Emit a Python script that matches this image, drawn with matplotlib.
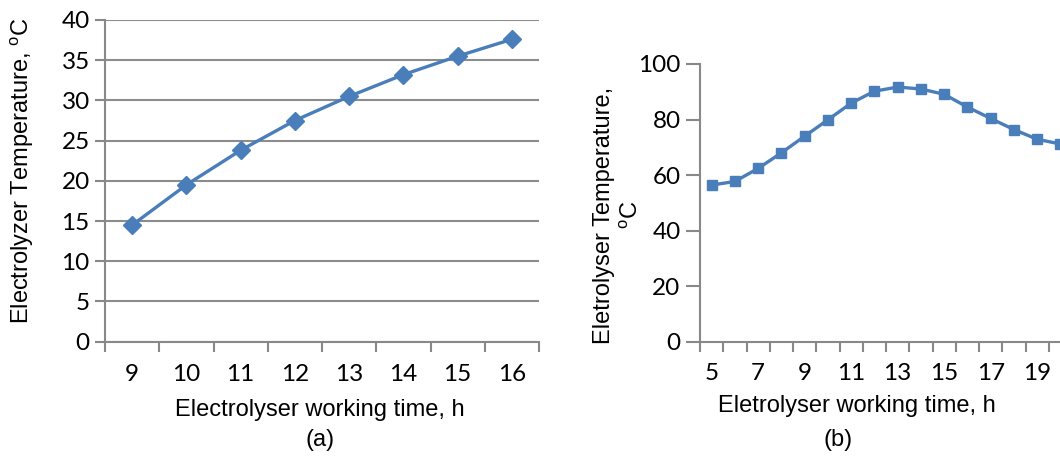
import matplotlib
matplotlib.use("Agg")
import matplotlib.pyplot as plt
import numpy as np

# ---- data ----
hours_a = [9, 10, 11, 12, 13, 14, 15, 16]
temp_a = [14.5, 19.5, 23.8, 27.5, 30.5, 33.2, 35.5, 37.6]

hours_b = [5, 6, 7, 8, 9, 10, 11, 12, 13, 14, 15, 16, 17, 18, 19, 20]
temp_b = [56.4, 57.7, 62.4, 68.0, 74.0, 79.9, 85.9, 90.2, 91.7, 91.0,
          89.1, 84.5, 80.4, 76.4, 72.9, 71.2]

yticks_a = [0, 5, 10, 15, 20, 25, 30, 35, 40]
yticks_b = [0, 20, 40, 60, 80, 100]

xlabel_a = "Electrolyser working time, h"
ylabel_a = "Electrolyzer Temperature, $^{\\mathrm{o}}$C"
xlabel_b = "Eletrolyser working time, h"
ylabel_b = "Eletrolyser Temperature,\n$^{\\mathrm{o}}$C"

plt.rcParams['font.family'] = ['Liberation Sans', 'DejaVu Sans']
plt.rcParams['mathtext.fontset'] = 'custom'
plt.rcParams['mathtext.rm'] = 'Liberation Sans'

W, H = 1060, 457
fig = plt.figure(figsize=(W / 100, H / 100), dpi=100)

LINE = "#4A7EBB"
AX = "#888888"
TICKFONT = dict(family=['Lato', 'DejaVu Sans'], size=17.5)
LABSIZE = 17


def px_rect(x0, y0, x1, y1):
    return [x0 / W, 1 - y1 / H, (x1 - x0) / W, (y1 - y0) / H]


# ---- chart (a) ----
ax = fig.add_axes(px_rect(105, 20, 539, 341.7))
xa = np.arange(len(hours_a))
ax.plot(xa, temp_a, color=LINE, lw=2.4, marker='D', ms=9.5,
        markeredgecolor=LINE, zorder=3)
ax.set_xlim(-0.5, len(hours_a) - 0.5)
ax.set_ylim(0, 40)
ax.set_yticks(yticks_a)
ax.set_yticklabels([str(v) for v in yticks_a], **TICKFONT)
ax.set_xticks(xa)
ax.set_xticklabels([str(h) for h in hours_a], **TICKFONT)
ax.tick_params(axis='x', length=0, pad=16)
ax.set_xticks(np.arange(len(hours_a) + 1) - 0.5, minor=True)
ax.tick_params(axis='x', which='minor', length=7, width=1.5, color=AX, direction='out')
ax.tick_params(axis='y', length=7, width=1.5, color=AX, pad=4)
for s in ['top', 'right']:
    ax.spines[s].set_visible(False)
for s in ['left', 'bottom']:
    ax.spines[s].set_color(AX)
    ax.spines[s].set_linewidth(1.5)
ax.yaxis.grid(True, color="#8C8C8C", lw=1.5)
ax.set_axisbelow(True)
ax.set_xlabel(xlabel_a, fontsize=LABSIZE)
ax.xaxis.set_label_coords((320 - 105) / (539 - 105), -(410 - 341.7) / (341.7 - 20))
ax.xaxis.label.set_va('center')
ax.set_ylabel(ylabel_a, fontsize=LABSIZE)
ax.yaxis.set_label_coords(-(105 - 22) / (539 - 105), (341.7 - 171) / (341.7 - 20))
ax.yaxis.label.set_va('center')
fig.text(320 / W, 1 - 440 / H, "(a)", ha='center', va='center', fontsize=LABSIZE)

# ---- chart (b) ----
nb = len(hours_b)
cw = 23.25
bx = fig.add_axes(px_rect(700, 64, 700 + nb * cw, 341.7))
xb = np.arange(nb)
bx.plot(xb, temp_b, color=LINE, lw=2.4, marker='s', ms=7,
        markeredgecolor=LINE, zorder=3, clip_on=False)
bx.set_xlim(-0.5, nb - 0.5)
bx.set_ylim(0, 100)
bx.set_yticks(yticks_b)
bx.set_yticklabels([str(v) for v in yticks_b], **TICKFONT)
bx.set_xticks(xb)
bx.set_xticklabels([str(h) if i % 2 == 0 else "" for i, h in enumerate(hours_b)], **TICKFONT)
bx.tick_params(axis='x', length=0, pad=15)
bx.set_xticks(np.arange(nb + 1) - 0.5, minor=True)
bx.tick_params(axis='x', which='minor', length=7, width=1.5, color=AX, direction='out')
bx.tick_params(axis='y', length=10, width=1.5, color=AX, pad=4)
for s in ['top', 'right']:
    bx.spines[s].set_visible(False)
for s in ['left', 'bottom']:
    bx.spines[s].set_color(AX)
    bx.spines[s].set_linewidth(1.5)
bw = nb * cw
bh = 341.7 - 64
bx.set_xlabel(xlabel_b, fontsize=LABSIZE)
bx.xaxis.set_label_coords((857 - 700) / bw, -(406 - 341.7) / bh)
bx.xaxis.label.set_va('center')
bx.set_ylabel(ylabel_b, fontsize=LABSIZE, linespacing=1.25)
bx.yaxis.set_label_coords(-(700 - 618) / bw, (341.7 - 215) / bh)
bx.yaxis.label.set_va('center')
bx.yaxis.label.set_ha('center')
fig.text(838 / W, 1 - 440 / H, "(b)", ha='center', va='center', fontsize=LABSIZE)

fig.savefig("out.png", dpi=100)
